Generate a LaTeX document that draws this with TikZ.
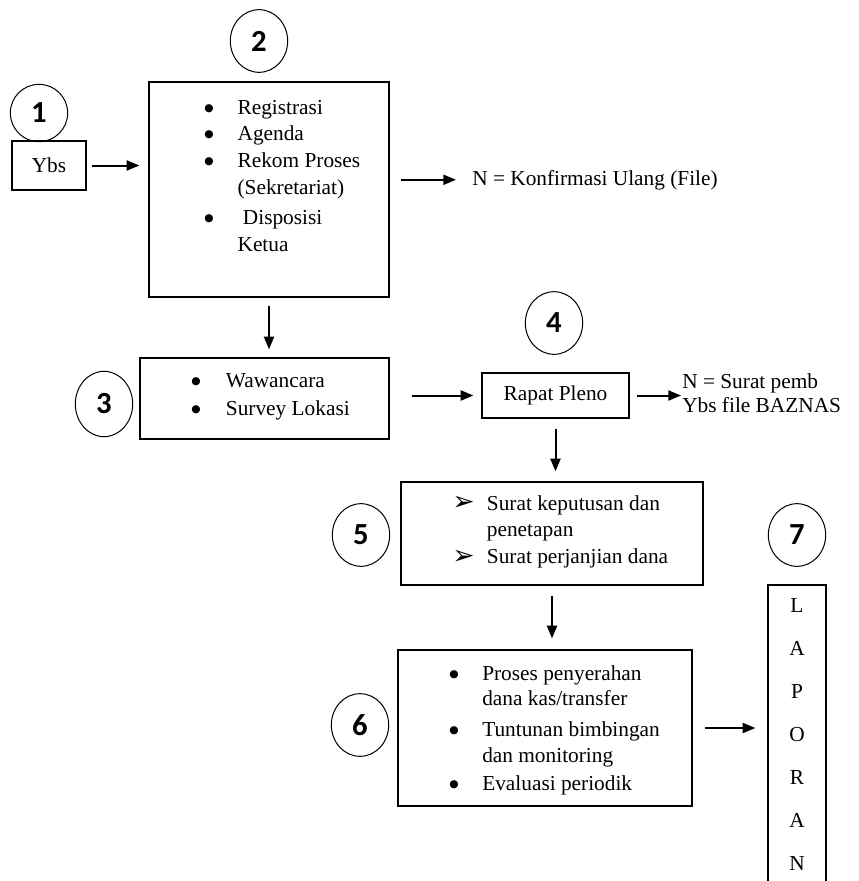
\documentclass[tikz,border=0pt]{standalone}
\usepackage{fontspec}
\setmainfont{Liberation Serif}
\newfontfamily\numfont{Carlito}
\newfontfamily\symfont{DejaVu Sans}
\usetikzlibrary{shapes,positioning,arrows.meta,calc}
\newcommand{\bul}{\raisebox{2.2pt}{\symfont\fontsize{8}{8}\selectfont ●}}
\newcommand{\pnh}{\raisebox{-0.5pt}{\symfont\fontsize{20}{20}\selectfont ➢}}

\begin{document}
\begin{tikzpicture}[x=0.75pt,y=-0.75pt,
    box/.style={draw,line width=0.95pt,inner sep=0pt},
    nummer/.style={draw,ellipse,line width=0.75pt,inner sep=0pt,minimum width=43pt,minimum height=47pt,
        font=\numfont\bfseries\fontsize{23}{23}\selectfont},
    teks/.style={inner sep=0pt,font=\fontsize{16}{20}\selectfont},
    panah/.style={-{Triangle[length=9.5pt,width=7.5pt]},line width=1.5pt}]
        \clip (0,0) rectangle (859,881);
        \node[nummer,minimum height=43pt] (n1) at (39,113) {1};
        \node[nummer] (n2) at (259,41) {2};
        \node[nummer,minimum height=49pt] (n3) at (104,404) {3};
        \node[nummer] (n4) at (554,323) {4};
        \node[nummer] (n5) at (361,535) {5};
        \node[nummer] (n6) at (360,725) {6};
        \node[nummer] (n7) at (797,535) {7};
        \node[box,teks,minimum width=55.5pt,minimum height=36.75pt] (ybs) at (49,165.5) {Ybs};
        \node[box,minimum width=180pt,minimum height=161.25pt] (b2) at (269,189.5) {};
        \node[teks,anchor=base west] (t2) at (204,114) {\begin{tabular}[t]{@{}p{25pt}@{}l@{}}
            \bul & Registrasi\\
            \bul & Agenda\\
            \bul & Rekom Proses\\
            & (Sekretariat)\\[3pt]
            \bul & \ Disposisi\\
            & Ketua
        \end{tabular}};
        \node[teks,anchor=base west] (konf) at (472,185) {N = Konfirmasi Ulang (File)};
        \node[box,minimum width=186.75pt,minimum height=60.75pt] (b3) at (264.5,398.5) {};
        \node[teks,anchor=base west] (t3) at (191,387) {\begin{tabular}[t]{@{}p{26pt}@{}l@{}}
            \bul & Wawancara\\[1pt]
            \bul & Survey Lokasi
        \end{tabular}};
        \node[box,teks,minimum width=110.25pt,minimum height=33.75pt] (rapat) at (555.5,395.5) {Rapat Pleno};
        \node[teks,anchor=west,align=left,font=\fontsize{16}{18}\selectfont] (surat) at (682,393) {N = Surat pemb\\Ybs file BAZNAS};
        \node[box,minimum width=226.5pt,minimum height=77.25pt] (b5) at (552,533.5) {};
        \node[teks,anchor=base west] (t5) at (452,510) {\begin{tabular}[t]{@{}p{26pt}@{}l@{}}
            \pnh & Surat keputusan dan\\
            & penetapan\\
            \pnh & Surat perjanjian dana
        \end{tabular}};
        \node[box,minimum width=220.5pt,minimum height=117pt] (b6) at (545,728) {};
        \node[teks,anchor=base west] (t6) at (449,680) {\begin{tabular}[t]{@{}p{24.75pt}@{}l@{}}
            \bul & Proses penyerahan\\[-1pt]
            & dana kas/transfer\\[3pt]
            \bul & Tuntunan bimbingan\\
            & dan monitoring\\[1pt]
            \bul & Evaluasi periodik
        \end{tabular}};
        \node[box,teks,minimum width=43.5pt,minimum height=226.5pt] (b7) at (797,736) {\begin{tabular}{c}
            L\\[12.25pt] A\\[12.25pt] P\\[12.25pt] O\\[12.25pt] R\\[12.25pt] A\\[12.25pt] N
        \end{tabular}};
        \draw[panah,shorten <=3.75pt,shorten >=6.75pt] (ybs.east) -- (ybs.east -| b2.west);
        \draw[panah,shorten <=8.25pt,shorten >=12pt] (b2.east |- konf.west) -- (konf.west);
        \draw[panah,shorten <=6pt,shorten >=6pt] (b2.south) -- (b2.south |- b3.north);
        \draw[panah,shorten <=16.5pt,shorten >=6pt] (b3.east |- rapat.west) -- (rapat.west);
        \draw[panah,shorten <=5.25pt,shorten >=0.75pt] (rapat.east) -- (rapat.east -| surat.west);
        \draw[panah,shorten <=7.5pt,shorten >=7.5pt] (rapat.south) -- (rapat.south |- b5.north);
        \draw[panah,shorten <=7.5pt,shorten >=8.25pt] (b5.south) -- (b5.south |- b6.north);
        \draw[panah,shorten <=9pt,shorten >=9pt] (b6.east) -- (b6.east -| b7.west);
\end{tikzpicture}
\end{document}
